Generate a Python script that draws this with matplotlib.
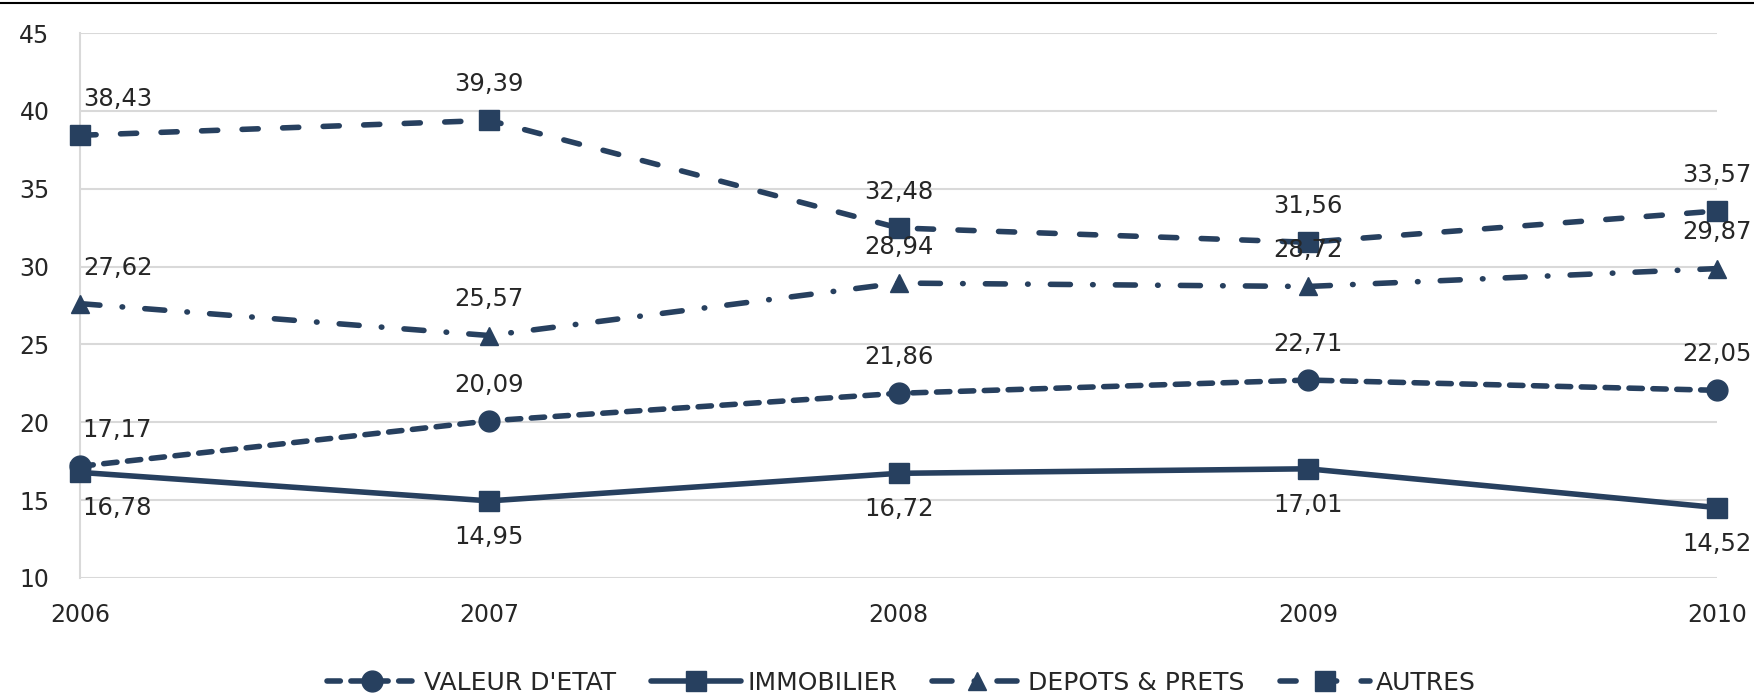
import matplotlib
matplotlib.use("Agg")
import matplotlib.pyplot as plt
from matplotlib.lines import Line2D

# Données
annees = [2006, 2007, 2008, 2009, 2010]
valeur_etat = [17.17, 20.09, 21.86, 22.71, 22.05]
immobilier = [16.78, 14.95, 16.72, 17.01, 14.52]
depots_prets = [27.62, 25.57, 28.94, 28.72, 29.87]
autres = [38.43, 39.39, 32.48, 31.56, 33.57]
y_ticks = [10, 15, 20, 25, 30, 35, 40, 45]

couleur = '#27405F'
texte = '#262626'

fig = plt.figure(figsize=(17.54, 6.98), dpi=100)
ax = fig.add_axes([0.0456, 0.172, 0.979 - 0.0456, 0.9527 - 0.172])

series = [
    ('VALEUR D\'ETAT', valeur_etat, 'o', 15, (2.4, 1.9), 'above'),
    ('IMMOBILIER', immobilier, 's', 14.5, None, 'below'),
    ('DEPOTS & PRETS', depots_prets, '^', 13.5, (3.6, 4.0, 0.1, 4.0), 'above'),
    ('AUTRES', autres, 's', 14.5, (2.9, 4.4), 'above'),
]

for nom, valeurs, marqueur, ms, tirets, pos in series:
    ligne, = ax.plot(annees, valeurs, color=couleur, lw=4.0, marker=marqueur,
                     ms=ms, label=nom, clip_on=False, zorder=3,
                     solid_capstyle='round', dash_capstyle='round')
    if tirets is not None:
        ligne.set_dashes(tirets)
    for i, (x, v) in enumerate(zip(annees, valeurs)):
        dy = 26 if pos == 'above' else -26
        if i == 0:
            ha, dx = 'left', 2
        else:
            ha, dx = 'center', 0
        ax.annotate(f"{v:.2f}".replace('.', ','), (x, v),
                    textcoords='offset points', xytext=(dx, dy),
                    ha=ha, va='center', fontsize=17.5, color=texte, zorder=4)

ax.set_xlim(2006, 2010)
ax.set_ylim(10, 45)
ax.set_xticks(annees)
ax.set_yticks(y_ticks)
ax.tick_params(axis='both', length=0, labelsize=17, labelcolor=texte)
ax.tick_params(axis='x', pad=18)
ax.tick_params(axis='y', pad=22)
ax.grid(axis='y', color='#d9d9d9', lw=1.5)
ax.set_axisbelow(True)
for cote in ['top', 'right', 'bottom']:
    ax.spines[cote].set_visible(False)
ax.spines['left'].set_color('#d9d9d9')
ax.spines['left'].set_linewidth(1.5)

ax.legend(loc='center', bbox_to_anchor=(0.514, 0.0215),
          bbox_transform=fig.transFigure, ncol=4, frameon=False,
          fontsize=18, handlelength=3.6, handletextpad=0.25,
          columnspacing=1.4, labelcolor=texte)

# trait noir en haut
fig.add_artist(Line2D([0, 1], [0.995, 0.995], transform=fig.transFigure,
                      color='black', lw=1.5))

fig.savefig('out.png', dpi=100)
